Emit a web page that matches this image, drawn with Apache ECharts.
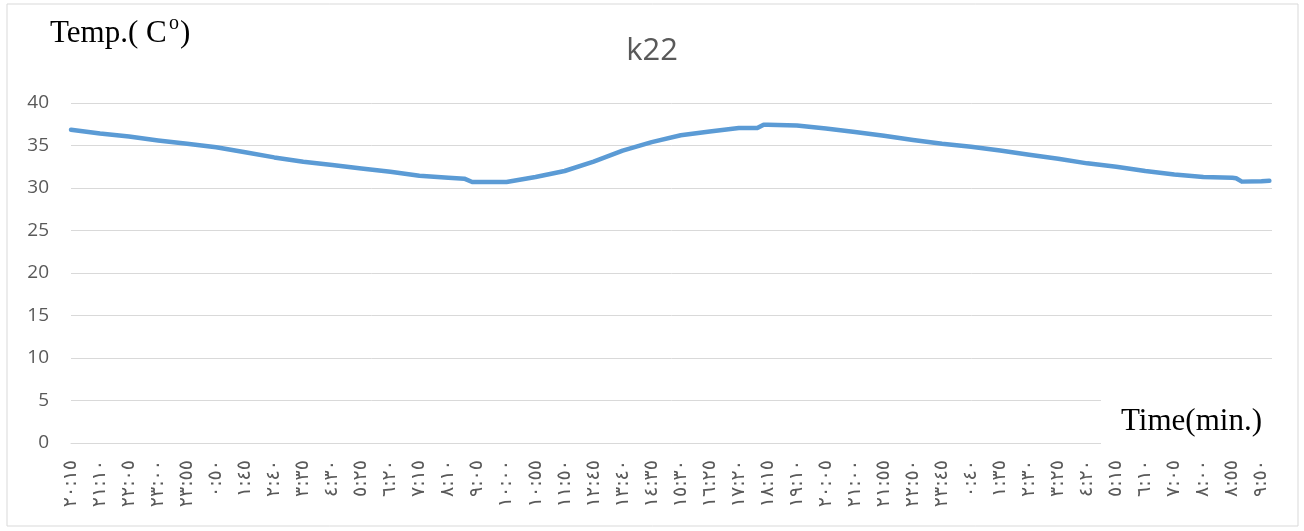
<!DOCTYPE html>
<html>
<head>
    <meta charset="UTF-8">
    <title>k22</title>
    <script src="https://cdn.jsdelivr.net/npm/echarts@6.0.0/dist/echarts.min.js"></script>
    <style>
        html, body { margin: 0; padding: 0; background: #fff; }
        #main { width: 1304px; height: 531px; }
    </style>
</head>
<body>
<div id="main"></div>
<script>
    // 时间轴：分钟（从 20:15 起算）
    var minutes = [0, 55, 110, 165, 220, 275, 330, 385, 440, 495, 550, 605, 660, 715, 745, 760,
        770, 825, 880, 935, 990, 1045, 1100, 1155, 1210, 1265, 1300, 1312,
        1320, 1375, 1430, 1485, 1540, 1595, 1650, 1705, 1760, 1815, 1870, 1925, 1980,
        2035, 2090, 2145, 2200, 2207, 2218, 2255, 2270];
    // 温度
    var temps = [36.85, 36.4, 36.05, 35.6, 35.2, 34.8, 34.2, 33.6, 33.1, 32.7, 32.3, 31.9, 31.45, 31.2, 31.1, 30.7,
        30.7, 30.7, 31.3, 32.0, 33.1, 34.4, 35.4, 36.2, 36.65, 37.05, 37.05, 37.45,
        37.45, 37.35, 37.0, 36.6, 36.15, 35.65, 35.2, 34.85, 34.4, 33.9, 33.45, 32.9, 32.5,
        32.0, 31.6, 31.3, 31.2, 31.15, 30.75, 30.8, 30.85];
    // 横轴刻度标签（每 55 分钟一个）
    var timeLabels = ['٢٠:١٥', '٢١:١٠', '٢٢:٠٥', '٢٣:٠٠', '٢٣:٥٥', '٠:٥٠', '١:٤٥', '٢:٤٠', '٣:٣٥', '٤:٣٠',
        '٥:٢٥', '٦:٢٠', '٧:١٥', '٨:١٠', '٩:٠٥', '١٠:٠٠', '١٠:٥٥', '١١:٥٠', '١٢:٤٥', '١٣:٤٠',
        '١٤:٣٥', '١٥:٣٠', '١٦:٢٥', '١٧:٢٠', '١٨:١٥', '١٩:١٠', '٢٠:٠٥', '٢١:٠٠', '٢١:٥٥', '٢٢:٥٠',
        '٢٣:٤٥', '٠:٤٠', '١:٣٥', '٢:٣٠', '٣:٢٥', '٤:٢٠', '٥:١٥', '٦:١٠', '٧:٠٥', '٨:٠٠',
        '٨:٥٥', '٩:٥٠'];
    var tickStep = 55;
    var yTicks = [0, 5, 10, 15, 20, 25, 30, 35, 40];

    var seriesData = [];
    for (var i = 0; i < minutes.length; i++) {
        seriesData.push([minutes[i], temps[i]]);
    }

    var myChart = echarts.init(document.getElementById('main'));

    var option = {
        backgroundColor: '#ffffff',
        animation: false,
        title: {
            text: 'k22',
            left: 'center',
            top: 31,
            textStyle: {
                color: '#595959',
                fontSize: 31,
                fontWeight: 'normal',
                fontFamily: 'Open Sans'
            }
        },
        grid: {
            left: 71,
            right: 32,
            top: 103,
            bottom: 88
        },
        xAxis: {
            type: 'value',
            min: 0,
            max: 2275,
            interval: tickStep,
            axisLine: { show: true, lineStyle: { color: '#d9d9d9', width: 1 } },
            axisTick: { show: false },
            splitLine: { show: false },
            axisLabel: {
                rotate: 90,
                margin: 17,
                showMaxLabel: false,
                color: '#595959',
                fontSize: 19,
                fontFamily: 'DejaVu Sans',
                formatter: function (v) {
                    var k = Math.round(v / tickStep);
                    return timeLabels[k] || '';
                }
            }
        },
        yAxis: {
            type: 'value',
            min: yTicks[0],
            max: yTicks[yTicks.length - 1],
            interval: 5,
            axisLine: { show: false },
            axisTick: { show: false },
            splitLine: { lineStyle: { color: '#d9d9d9', width: 1 } },
            axisLabel: {
                color: '#595959',
                fontSize: 19,
                fontFamily: 'Open Sans',
                margin: 22
            }
        },
        series: [{
            type: 'line',
            data: seriesData,
            showSymbol: false,
            symbol: 'none',
            lineStyle: { color: '#5b9bd5', width: 4.5, cap: 'round', join: 'round' },
            z: 3
        }],
        graphic: [
            // 外框
            {
                type: 'rect',
                shape: { x: 7, y: 4, width: 1291, height: 522 },
                style: { fill: 'none', stroke: '#d9d9d9', lineWidth: 1 },
                z: 1
            },
            // 纵轴标题
            {
                type: 'text',
                left: 50,
                top: 18,
                style: { text: 'Temp.( C', font: '31px "Liberation Serif"', fill: '#000' },
                z: 10
            },
            {
                type: 'text',
                left: 169,
                top: 14,
                style: { text: 'o', font: '20px "Liberation Serif"', fill: '#000' },
                z: 10
            },
            {
                type: 'text',
                left: 180,
                top: 18,
                style: { text: ')', font: '31px "Liberation Serif"', fill: '#000' },
                z: 10
            },
            // 横轴标题（白底遮住网格线）
            {
                type: 'rect',
                shape: { x: 1101, y: 394, width: 176, height: 56 },
                style: { fill: '#ffffff' },
                z: 9
            },
            {
                type: 'text',
                left: 1121,
                top: 406,
                style: { text: 'Time(min.)', font: '31px "Liberation Serif"', fill: '#000' },
                z: 10
            }
        ]
    };
    myChart.setOption(option);
</script>
</body>
</html>
